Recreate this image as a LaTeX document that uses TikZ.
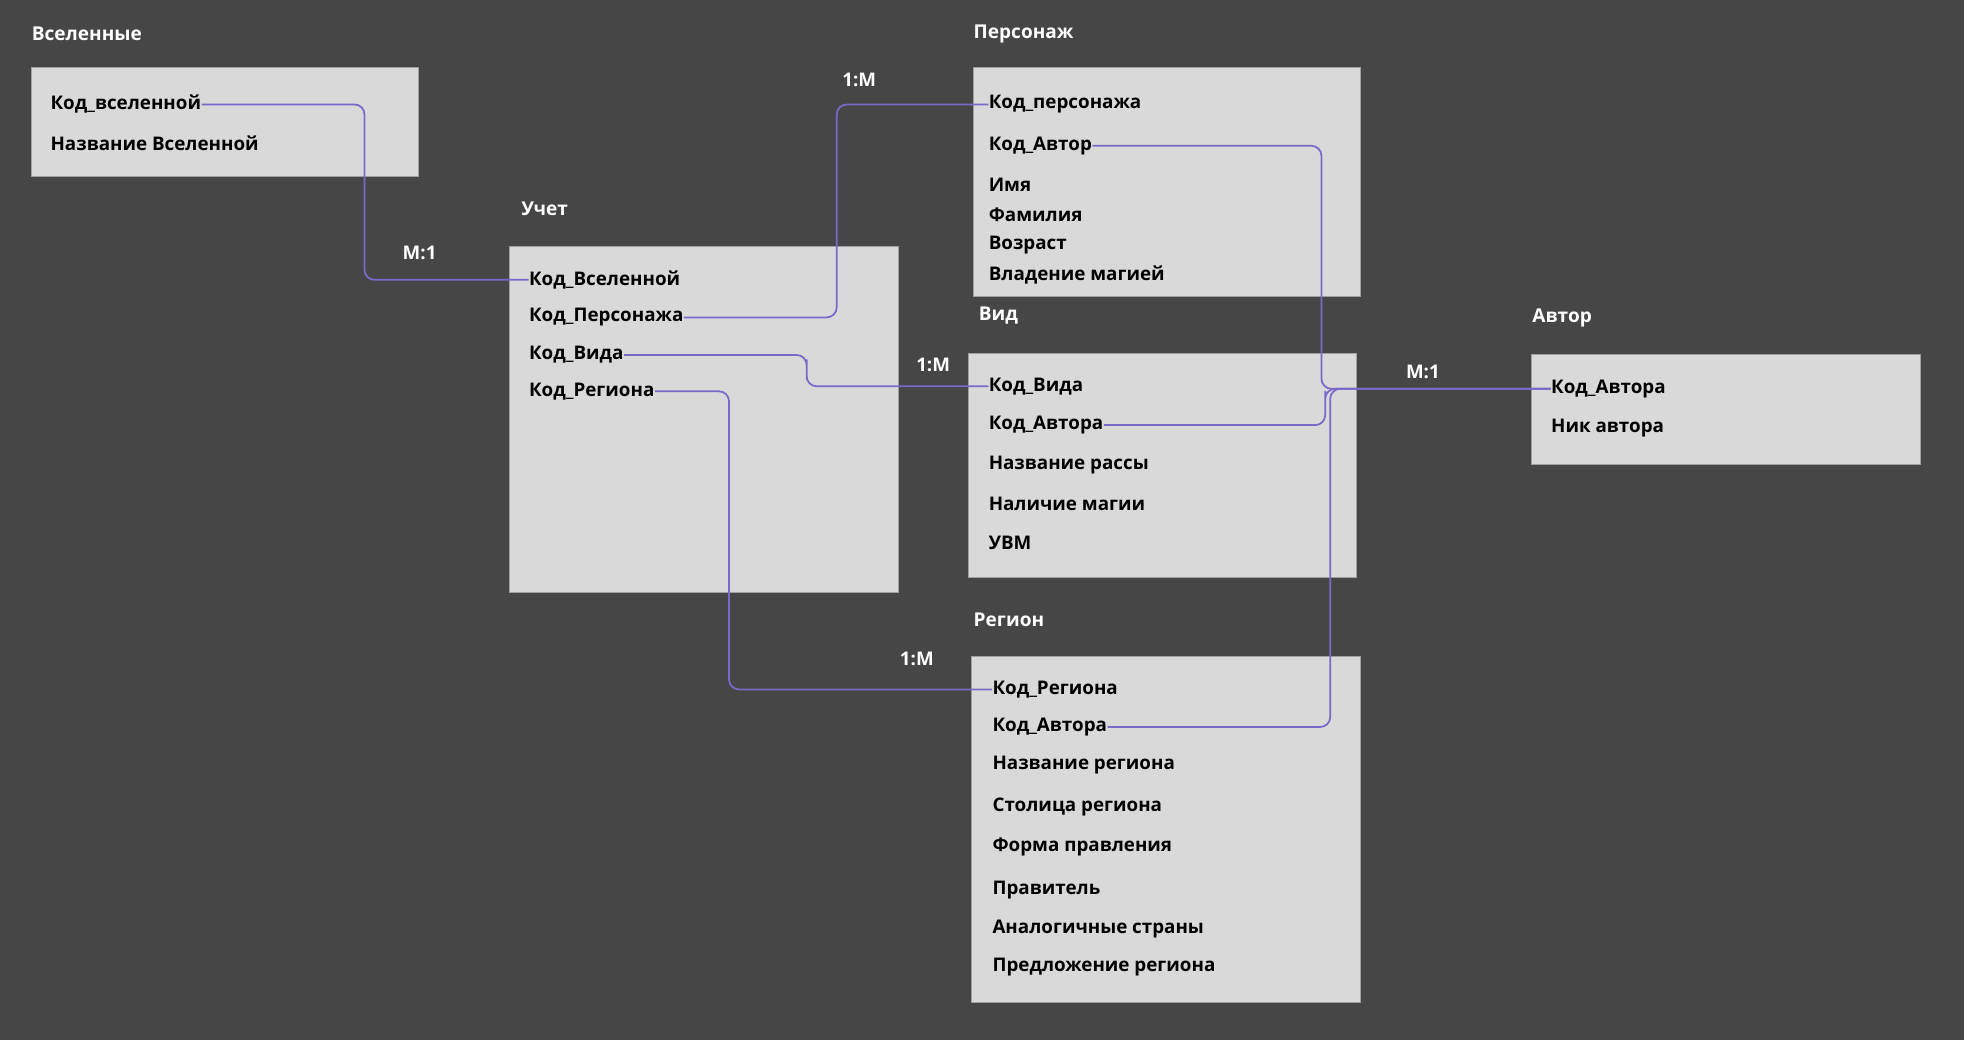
\documentclass[tikz,border=0pt]{standalone}
\usepackage{fontspec}
\setmainfont{Open Sans}
\definecolor{bgc}{HTML}{464646}
\definecolor{boxc}{HTML}{D9D9D9}
\definecolor{edgec}{HTML}{A0A0A0}
\definecolor{linkc}{HTML}{7B68C8}
\begin{document}
\begin{tikzpicture}[x=0.5pt,y=-0.5pt,
  tbl/.style={fill=boxc,draw=edgec,line width=0.4pt},
  title/.style={anchor=west,inner sep=0pt,text=white,font=\bfseries\fontsize{7.6}{9}\selectfont},
  field/.style={anchor=west,inner sep=0pt,yshift=-0.7pt,text=black,font=\bfseries\fontsize{7.5}{9}\selectfont},
  card/.style={inner sep=0pt,text=white,font=\bfseries\fontsize{7.5}{9}\selectfont},
  link/.style={draw=linkc,line width=0.7pt,rounded corners=4pt}]
\fill[bgc] (0,0) rectangle (1568,830);
\draw[tbl] (25,54) rectangle (334,141);
\draw[tbl] (407,197) rectangle (717,473);
\draw[tbl] (777,54) rectangle (1086,237);
\draw[tbl] (773,282) rectangle (1083,461);
\draw[tbl] (1223,283) rectangle (1533,371);
\draw[tbl] (776,524) rectangle (1086,800);
\node[title] (tvs) at (25,27) {Вселенные};
\node[title] (tuc) at (416,167) {Учет};
\node[title] (tpe) at (777,27) {Персонаж};
\node[title] (tvi) at (781,252) {Вид};
\node[title] (tav) at (1223,254) {Автор};
\node[title] (tre) at (777,495) {Регион};
\node[field] (vsk) at (40,82) {Код\_вселенной};
\node[field] (vsn) at (40,113) {Название Вселенной};
\node[field] (uvs) at (422,222) {Код\_Вселенной};
\node[field] (ups) at (422,252) {Код\_Персонажа};
\node[field] (uvi) at (422,282) {Код\_Вида};
\node[field] (ure) at (422,311) {Код\_Региона};
\node[field] (pk) at (789,82) {Код\_персонажа};
\node[field] (pa) at (789,115) {Код\_Автор};
\node[field] (pi) at (789,146) {Имя};
\node[field] (pf) at (789,170) {Фамилия};
\node[field] (pv) at (789,194) {Возраст};
\node[field] (pm) at (789,218) {Владение магией};
\node[field] (vk) at (789,307) {Код\_Вида};
\node[field] (va) at (789,338) {Код\_Автора};
\node[field] (vn) at (789,370) {Название рассы};
\node[field] (vm) at (789,401) {Наличие магии};
\node[field] (vu) at (789,432) {УВМ};
\node[field] (ak) at (1238,309) {Код\_Автора};
\node[field] (an) at (1238,340) {Ник автора};
\node[field] (rk) at (792,549) {Код\_Региона};
\node[field] (ra) at (792,579) {Код\_Автора};
\node[field] (rn) at (792,609) {Название региона};
\node[field] (rs) at (792,643) {Столица региона};
\node[field] (rf) at (792,675) {Форма правления};
\node[field] (rp) at (792,709) {Правитель};
\node[field] (rc) at (792,740) {Аналогичные страны};
\node[field] (ro) at (792,771) {Предложение региона};
\draw[link] (vsk.east) -| (291,150) |- (uvs.west);
\draw[link] (ups.east) -| (668,150) |- (pk.west);
\draw[link] (uvi.east) -| (644,295) |- (vk.west);
\draw[link] (ure.east) -| (582,450) |- (rk.west);
\draw[link] (pa.east) -| (1055,250) |- (ak.west);
\draw[link] (va.east) -| (1058,320) |- (ak.west);
\draw[link] (ra.east) -| (1062,450) |- (ak.west);
\node[card] (c1) at (335,202) {М:1};
\node[card] (c2) at (686,64) {1:М};
\node[card] (c3) at (745,291) {1:М};
\node[card] (c4) at (732,526) {1:М};
\node[card] (c5) at (1136,297) {М:1};
\end{tikzpicture}
\end{document}
